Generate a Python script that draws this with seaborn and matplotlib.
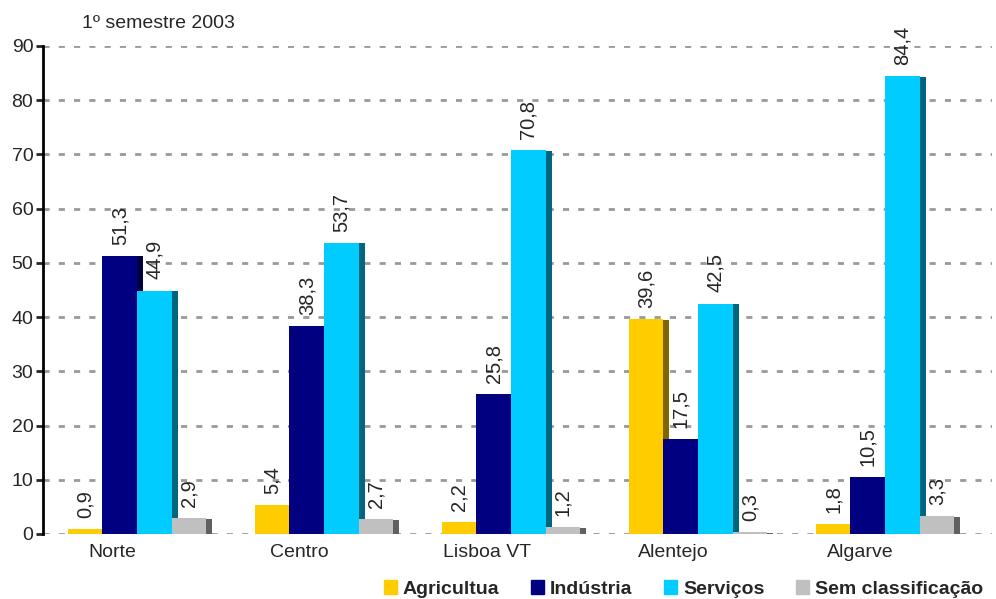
import pandas as pd
import matplotlib.pyplot as plt
import matplotlib.patches as mpatches
import seaborn as sns

# Data
regions = ["Norte", "Centro", "Lisboa VT", "Alentejo", "Algarve"]
sectors = ["Agricultua", "Indústria", "Serviços", "Sem classificação"]
agricultura = [0.9, 5.4, 2.2, 39.6, 1.8]
industria = [51.3, 38.3, 25.8, 17.5, 10.5]
servicos = [44.9, 53.7, 70.8, 42.5, 84.4]
sem_class = [2.9, 2.7, 1.2, 0.3, 3.3]

colors = ["#FFCC00", "#000080", "#00CCFF", "#C0C0C0"]
shadows = ["#806600", "#000040", "#006680", "#606060"]

rows = []
for name, vals in zip(sectors, [agricultura, industria, servicos, sem_class]):
    for reg, v in zip(regions, vals):
        rows.append({"region": reg, "sector": name, "value": v})
df = pd.DataFrame(rows)

sns.set_style("white")
plt.rcParams["font.family"] = ["Liberation Sans", "DejaVu Sans"]

fig = plt.figure(figsize=(9.96, 5.99), dpi=100)
ax = fig.add_axes([43 / 996, 65 / 599, (992 - 43) / 996, 488 / 599])

sns.barplot(
    data=df, x="region", y="value", hue="sector",
    order=regions, hue_order=sectors, palette=colors,
    width=0.74, saturation=1, linewidth=0, legend=False, ax=ax,
)

# shadow strip on the right of each bar, drawn behind the bars
for bar in list(ax.patches):
    for k, c in enumerate(colors):
        if mpatches.Patch(color=c).get_facecolor() == bar.get_facecolor():
            sh = shadows[k]
    x = bar.get_x() + bar.get_width()
    h = bar.get_height()
    ax.add_patch(mpatches.Rectangle((x, 0), 0.032, h - 0.1,
                                    facecolor=sh, edgecolor="none", zorder=0.8))
    bar.set_zorder(1)
    ax.annotate(f"{h:.1f}".replace(".", ","),
                (bar.get_x() + bar.get_width() / 2, h),
                xytext=(0, 8), textcoords="offset points",
                rotation=90, ha="center", va="bottom", fontsize=14.5)

ax.set_ylim(0, 90)
ax.set_xlim(-0.503, 4.572)
ax.set_yticks(range(0, 91, 10))
ax.set_xticks([i - 0.13 for i in range(len(regions))])
ax.set_xticklabels(regions)
ax.set_xlabel("")
ax.set_ylabel("")

ax.yaxis.grid(True, color="#999999", linestyle=(0, (2.2, 3.3)), linewidth=2)
ax.set_axisbelow(True)
for s in ["top", "right", "bottom"]:
    ax.spines[s].set_visible(False)
ax.spines["left"].set_linewidth(2)
ax.spines["left"].set_color("black")
ax.tick_params(axis="y", left=True, length=5, width=2, labelsize=14, pad=2)
ax.tick_params(axis="x", bottom=False, length=0, labelsize=14, pad=7)

fig.text(82 / 996, 1 - 23 / 599, "1º semestre 2003", fontsize=14,
         ha="left", va="center")

handles = [mpatches.Patch(color=c, label=s) for c, s in zip(colors, sectors)]
fig.legend(handles=handles, loc="center right",
           bbox_to_anchor=(993 / 996, 1 - 589 / 599), ncol=4, frameon=False,
           prop={"weight": "bold", "size": 14}, borderpad=0,
           handlelength=0.7, handleheight=0.7, handletextpad=0.3,
           columnspacing=1.6)

fig.savefig("out.png", dpi=100)
